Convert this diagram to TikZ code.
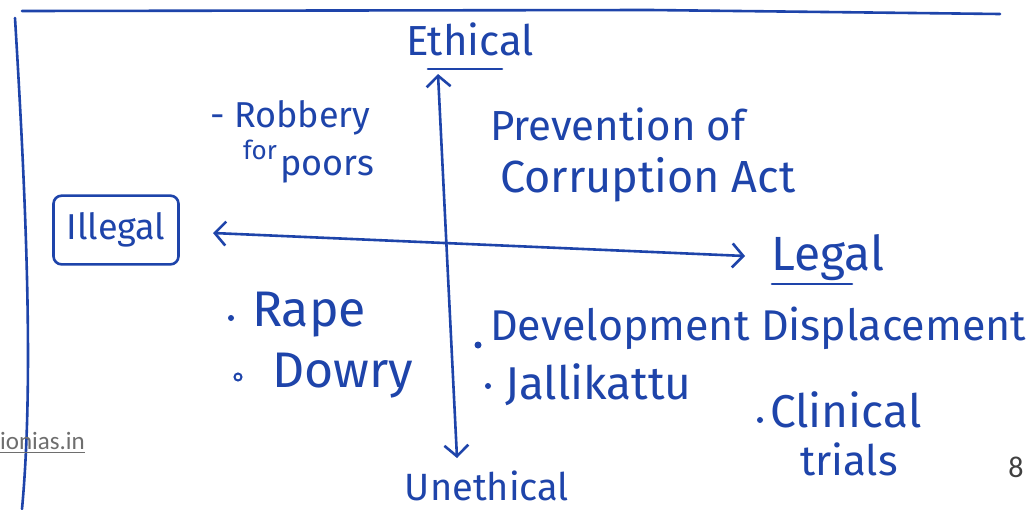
\documentclass[tikz,border=0pt]{standalone}
\usepackage{fontspec}
\setmainfont{Fira Sans}
\newfontfamily\markfont{Carlito}
\usetikzlibrary{arrows.meta}
\definecolor{ink}{RGB}{30,68,170}
\definecolor{wm}{RGB}{110,110,110}
\newcommand{\hs}[1]{\fontsize{#1}{#1}\selectfont}
\tikzset{
  hand/.style={text=ink, font=\hs{42}, inner sep=0pt, anchor=west},
  handc/.style={text=ink, font=\hs{42}, inner sep=0pt},
  inkline/.style={draw=ink, line width=2.6pt, line cap=round, line join=round},
  axisline/.style={inkline, {Straight Barb[length=11pt,width=24pt,line width=2.6pt]}-{Straight Barb[length=11pt,width=24pt,line width=2.6pt]}},
  boxed/.style={draw=ink, line width=2.6pt, rounded corners=8pt, inner xsep=13pt, inner ysep=17pt},
  dotbullet/.style={fill=ink},
  ringbullet/.style={draw=ink, line width=2pt},
  pagemark/.style={text=wm, font=\markfont\hs{25}, inner sep=0pt}
}
\begin{document}
\begin{tikzpicture}[x=1pt,y=-1pt]
\useasboundingbox (0,0) rectangle (1035,509);
\fill[white] (0,0) rectangle (1035,509);
% frame
\coordinate (ftl) at (15,18);
\coordinate (ftr) at (1000,14);
\coordinate (fbl) at (22,509);
\draw[inkline] (fbl) .. controls (34,380) and (26,200) .. (ftl);
\draw[inkline] (22,11) -- (650,10) -- (ftr);
% labels
\node[handc] (eth) at (470,39) {Ethical};
\node[handc, font=\hs{38}] (uneth) at (487,486) {Unethical};
\node[handc, boxed, font=\hs{36}] (ill) at (116,230) {Illegal};
\node[handc, font=\hs{48}] (leg) at (828,258) {Legal};
% axes
\coordinate (vt) at (438,74);
\coordinate (vb) at (457,458);
\coordinate (hl) at (213,233);
\coordinate (hr) at (745,256);
\draw[axisline] (vb) -- (vt);
\draw[axisline] (hl) -- (hr);
% underlines
\draw[inkline] (428,69) -- (502,69);
\draw[inkline] (772,284) -- (852,284);
% quadrant texts
\node[hand, font=\hs{36}] (rob) at (210,118) {- Robbery};
\node[hand, font=\hs{26}] (for) at (243,150) {for};
\node[hand, font=\hs{36}] (poor) at (280,170) {poors};
\node[hand] (prev) at (490,124) {Prevention of};
\node[hand, font=\hs{45}] (corr) at (500,180) {Corruption Act};
\node[hand, font=\hs{50}] (rape) at (252,315) {Rape};
\node[hand, font=\hs{50}] (dowry) at (272,376) {Dowry};
\node[hand, font=\hs{43}] (dev) at (490,328) {Development Displacement};
\node[hand, font=\hs{46}] (jal) at (505,385) {Jallikattu};
\node[hand, font=\hs{46}] (clin) at (770,410) {Clinical};
\node[hand, font=\hs{42}] (trials) at (800,459) {trials};
% bullets
\fill[dotbullet] (231,318) circle (3pt);
\draw[ringbullet] (238,377) circle (3.5pt);
\fill[dotbullet] (478,345) circle (3.5pt);
\fill[dotbullet] (488,386) circle (3pt);
\fill[dotbullet] (760,420) circle (3pt);
% page marks
\node[pagemark, anchor=west] (site) at (0,441) {ionias.in};
\draw[wm, line width=0.8pt] (site.south west) ++(0,2) -- ++(85,0);
\node[pagemark, font=\markfont\hs{30}, text=black!75] (page) at (1016,467) {8};
\end{tikzpicture}
\end{document}
